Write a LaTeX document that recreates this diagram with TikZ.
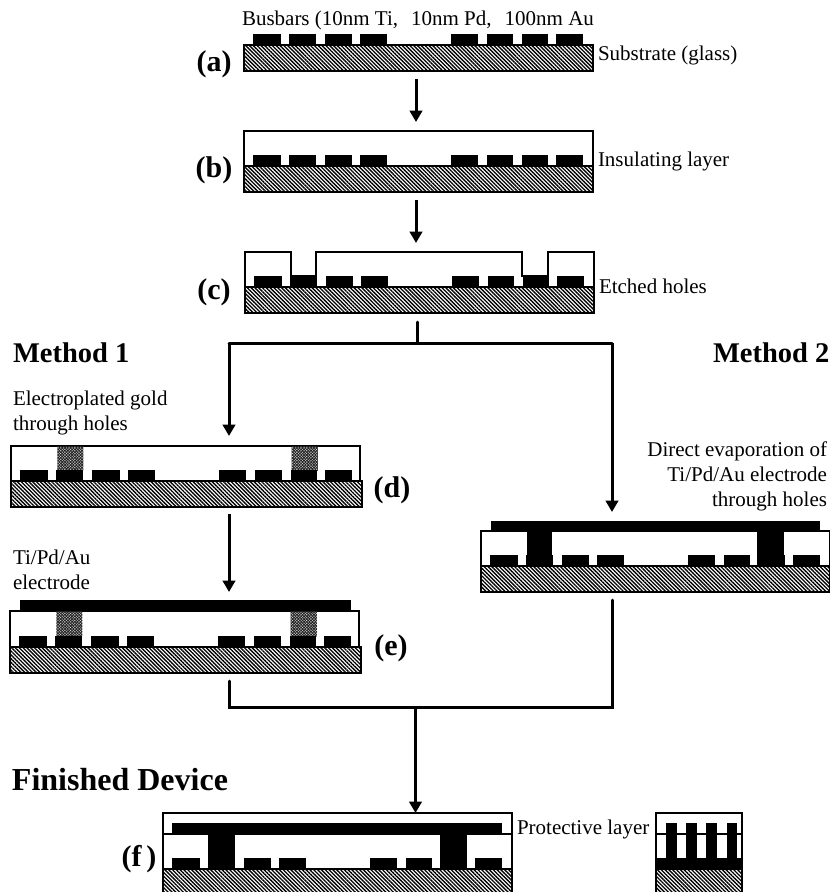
\documentclass[tikz,border=0pt]{standalone}
\usepackage{fontspec}
\setmainfont{Liberation Serif}
\usetikzlibrary{arrows.meta,patterns.meta}
\tikzset{
  substrate/.style={draw,line width=1.3pt,anchor=north west,inner sep=0pt,outer sep=0pt,minimum height=26pt,minimum width=349pt,pattern={Lines[angle=-45,distance=2.7pt,line width=1.35pt]}},
  inslayer/.style={draw,line width=1.3pt,anchor=south west,inner sep=0pt,outer sep=0pt,minimum width=349pt,minimum height=35pt},
  goldplug/.style={pattern={Hatch[angle=45,distance=2pt,line width=1pt]},pattern color=black!85},
  outline/.style={line width=1.3pt},
  flowline/.style={line width=3pt,line cap=round,line join=miter},
  flowarrow/.style={line width=3pt,-{Triangle[width=12.5pt,length=11.5pt]}},
  lbl/.style={font=\fontsize{21}{25}\selectfont,inner sep=0pt,outer sep=0pt,anchor=base west},
  lblblock/.style={font=\fontsize{21}{25}\selectfont,inner sep=0pt,outer sep=0pt},
  steplbl/.style={font=\fontsize{30}{32}\selectfont\bfseries,inner sep=0pt,outer sep=0pt},
  methodlbl/.style={font=\fontsize{28.5}{30}\selectfont\bfseries,inner sep=0pt,outer sep=0pt,anchor=base west}
}
% busbars sit on the substrate top, which is y=0 in each device
\newcommand{\devbars}{
  \fill (9,-11) rectangle (37,0);
  \fill (45,-11) rectangle (72,0);
  \fill (81,-11) rectangle (108,0);
  \fill (116,-11) rectangle (143,0);
  \fill (207,-11) rectangle (234,0);
  \fill (243,-11) rectangle (269,0);
  \fill (278,-11) rectangle (304,0);
  \fill (312,-11) rectangle (339,0);
}
\begin{document}
\begin{tikzpicture}[x=1pt,y=-1pt]
\useasboundingbox (0,0) rectangle (830,892);
% step a
\begin{scope}[shift={(244,45)}]
\node[substrate] (subA) at (0,0) {};
\devbars
\end{scope}
\node[lbl] (busbarTxt) at (242,25) {Busbars (10nm Ti,\hspace{13pt}10nm Pd,\hspace{13pt}100nm Au};
\node[lbl] (substrateTxt) at (598,60) {Substrate (glass)};
\node[steplbl] (labelA) at (214,64) {(a)};
% step b
\begin{scope}[shift={(244,166)}]
\node[inslayer] (insB) at (0,0) {};
\node[substrate] (subB) at (0,0) {};
\devbars
\end{scope}
\node[lbl] (insulatingTxt) at (598,166) {Insulating layer};
\node[steplbl] (labelB) at (214,170) {(b)};
% step c
\begin{scope}[shift={(245,287)}]
\draw[outline] (0,0) -- (0,-35) -- (46,-35) -- (46,-11) -- (71,-11) -- (71,-35) -- (277,-35) -- (277,-11) -- (303,-11) -- (303,-35) -- (349,-35) -- (349,0);
\node[substrate] (subC) at (0,0) {};
\devbars
\end{scope}
\node[lbl] (etchedTxt) at (599,293) {Etched holes};
\node[steplbl] (labelC) at (214,292) {(c)};
% method headings
\node[methodlbl] (methodA) at (13,362) {Method 1};
\node[methodlbl] (methodB) at (713,362) {Method 2};
% step d
\begin{scope}[shift={(11,481)},xscale=1.006]
\node[inslayer] (insD) at (0,0) {};
\filldraw[goldplug,draw=none] (46,-35) rectangle (72,-11);
\filldraw[goldplug,draw=none] (279,-35) rectangle (305,-11);
\node[substrate,minimum width=351pt] (subD) at (0,0) {};
\devbars
\end{scope}
\node[lblblock,align=left,anchor=north west] (platedTxt) at (13,391) {Electroplated gold\\through holes};
\node[steplbl] (labelD) at (392,490) {(d)};
% step e
\begin{scope}[shift={(10,647)},xscale=1.006]
\node[inslayer,minimum height=36pt] (insE) at (0,0) {};
\filldraw[goldplug,draw=none] (46,-36) rectangle (72,-11);
\filldraw[goldplug,draw=none] (279,-36) rectangle (305,-11);
\fill (10,-47) rectangle (339,-36);
\node[substrate,minimum width=351pt] (subE) at (0,0) {};
\devbars
\end{scope}
\node[lblblock,align=left,anchor=north west] (electrodeTxt) at (13,550) {Ti/Pd/Au\\electrode};
\node[steplbl] (labelE) at (391,648) {(e)};
% method 2 device
\begin{scope}[shift={(481,566)}]
\node[inslayer] (insM) at (0,0) {};
\fill (10,-45) rectangle (339,-35);
\fill (46,-35) rectangle (71,0);
\fill (276,-35) rectangle (303,0);
\node[substrate] (subM) at (0,0) {};
\devbars
\end{scope}
\node[lblblock,align=right,anchor=north east] (directTxt) at (827,442) {Direct evaporation of\\Ti/Pd/Au electrode\\through holes};
% step f
\begin{scope}[shift={(163,869)}]
\node[inslayer,minimum height=56pt] (insF) at (0,0) {};
\draw[outline] (0,-35) -- (349,-35);
\fill (9,-46) rectangle (339,-35);
\fill (45,-35) rectangle (72,0);
\fill (277,-35) rectangle (304,0);
\node[substrate] (subF) at (0,0) {};
\devbars
\end{scope}
\node[lbl] (protectiveTxt) at (517,834) {Protective layer};
\node[steplbl] (labelF) at (139,859) {(f\,)};
\node[methodlbl,font=\fontsize{32}{34}\selectfont\bfseries] (finishedTxt) at (12,790) {Finished Device};
% detail of the pillars
\begin{scope}[shift={(656,869)}]
\node[inslayer,minimum width=86pt,minimum height=56pt] (insG) at (0,0) {};
\draw[outline] (0,-35) -- (86,-35);
\fill (10,-46) rectangle (21,0);
\fill (30,-46) rectangle (41,0);
\fill (50,-46) rectangle (61,0);
\fill (71,-46) rectangle (81,0);
\fill (0,-11) rectangle (86,0);
\node[substrate,minimum width=86pt] (subG) at (0,0) {};
\end{scope}
% connectors
\coordinate (arrowAtop) at (416,79);
\coordinate (arrowAend) at (416,122);
\coordinate (arrowBtop) at (416,200);
\coordinate (arrowBend) at (416,243);
\coordinate (stemC) at (417,322);
\coordinate (splitC) at (417,343);
\coordinate (splitL) at (229,343);
\coordinate (splitR) at (612,343);
\coordinate (arrowDend) at (229,436);
\coordinate (arrowMend) at (612,512);
\coordinate (arrowEtop) at (229,514);
\coordinate (arrowEend) at (229,592);
\coordinate (stubE) at (229,681);
\coordinate (cornerE) at (229,707);
\coordinate (stubM) at (612,600);
\coordinate (cornerM) at (612,707);
\coordinate (joinF) at (415.5,707);
\coordinate (arrowFend) at (415.5,813);
\draw[flowarrow] (arrowAtop) -- (arrowAend);
\draw[flowarrow] (arrowBtop) -- (arrowBend);
\draw[flowline] (stemC) -- (splitC);
\draw[flowline] (splitL) -- (splitR);
\draw[flowarrow] (splitL) -- (arrowDend);
\draw[flowarrow] (splitR) -- (arrowMend);
\draw[flowarrow] (arrowEtop) -- (arrowEend);
\draw[flowline] (stubE) -- (cornerE) -- (cornerM) -- (stubM);
\draw[flowarrow] (joinF) -- (arrowFend);
\end{tikzpicture}
\end{document}
